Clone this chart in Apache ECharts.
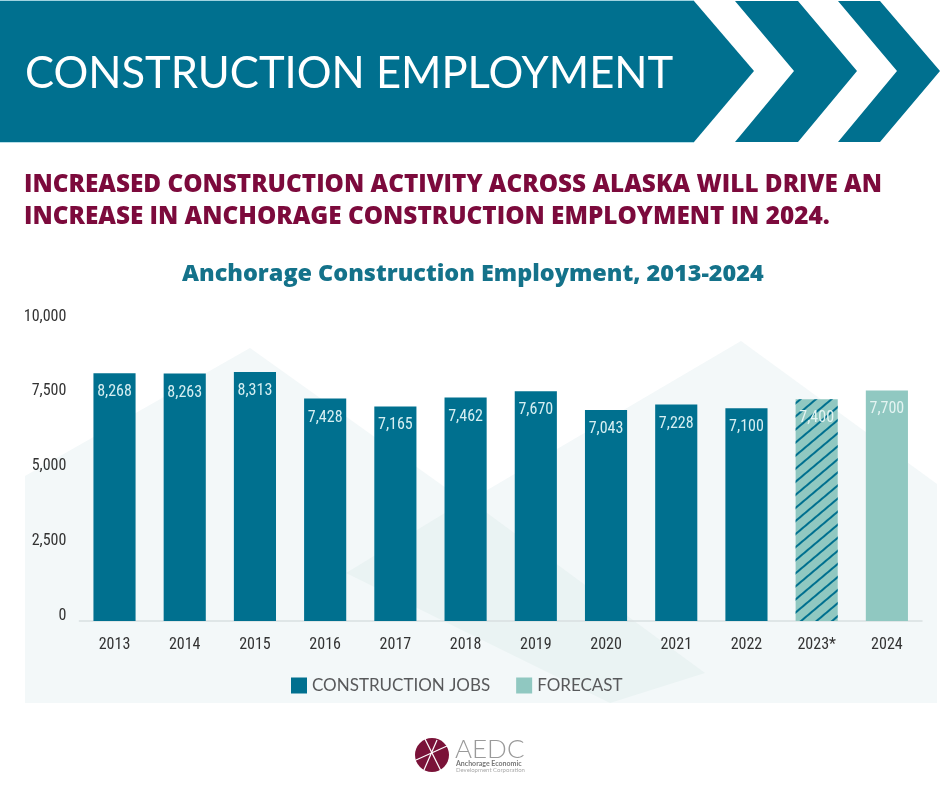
<!DOCTYPE html>
<html>
<head>
<meta charset="utf-8">
<style>html,body{margin:0;padding:0;background:#fff}#chart{width:940px;height:788px}</style>
<script src="https://cdn.jsdelivr.net/npm/echarts@6/dist/echarts.min.js"></script>
</head>
<body>
<div id="chart"></div>
<script>
var years = ['2013','2014','2015','2016','2017','2018','2019','2020','2021','2022','2023*','2024'];
var jobs = [8268,8263,8313,7428,7165,7462,7670,7043,7228,7100,null,null];
var forecast = [null,null,null,null,null,null,null,null,null,null,7400,7700];
var yTicks = {min:0,max:10000,step:2500};

var teal = '#00708f', mint = '#90c8c1', maroon = '#7c0a3c';
var narrow = '"Roboto Condensed","Open Sans Condensed",sans-serif';

function comma(v){
    return String(v).replace(/\B(?=(\d{3})+$)/g,',');
}
function poly(points,fill,z){
    return {type:'polygon',z:z||0,silent:true,shape:{points:points},style:{fill:fill}};
}
function txt(x,y,text,font,fill,align){
    return {type:'text',z:5,silent:true,x:x,y:y,style:{text:text,font:font,fill:fill,textAlign:align||'left',textVerticalAlign:'middle'}};
}
function stroke(points){
    return {type:'polyline',z:4,silent:true,shape:{points:points},style:{stroke:'#fff',lineWidth:1.2,fill:null}};
}

var chart = echarts.init(document.getElementById('chart'),null,{renderer:'canvas'});

/*背景 + 顶部横幅 + logo*/
var decor = [
    poly([[25,476],[250,348],[705,673],[610,703],[25,703]],'#f3f8f9',-10),
    poly([[346,573],[741,341],[937,484],[937,703],[610,703]],'#f3f8f9',-10),
    poly([[346,573],[468,499],[705,673],[610,703]],'#eaf3f3',-8),
    {type:'rect',z:1,silent:true,shape:{x:0,y:0,width:694,height:142.8},style:{fill:'#9fd3e0'}},
    poly([[0,1],[694,1],[754,71],[694,142],[0,142]],teal,2),
    poly([[735,1],[798,1],[857,71],[798,142],[735,142],[794,71]],teal,2),
    poly([[838,1],[880,1],[940,71],[880,142],[838,142],[897,71]],teal,2),
    txt(25,74,'CONSTRUCTION EMPLOYMENT','400 43.5px Lato','#fff'),
    txt(24,185,'INCREASED CONSTRUCTION ACTIVITY ACROSS ALASKA WILL DRIVE AN','800 24.3px "Open Sans"',maroon),
    txt(24,217,'INCREASE IN ANCHORAGE CONSTRUCTION EMPLOYMENT IN 2024.','800 24.3px "Open Sans"',maroon),
    {type:'circle',z:3,silent:true,shape:{cx:432,cy:755,r:17},style:{fill:'#7a1238'}},
    stroke([[425,739],[441,771]]),
    stroke([[416,760],[447,746]]),
    stroke([[424,770],[437,740]]),
    txt(455,750,'AEDC','300 26px Lato','#9a9a9a'),
    txt(456,764,'Anchorage Economic','700 7px Lato','#777'),
    txt(456,770,'Development Corporation','400 6px Lato','#aaa')
];

var option = {
    animation:false,
    backgroundColor:'#fff',
    title:{
        text:'Anchorage Construction Employment, 2013-2024',
        left:182,
        top:263,
        padding:0,
        textStyle:{fontFamily:'"Open Sans"',fontWeight:800,fontSize:23.4,color:'#14728a'}
    },
    legend:{
        left:286,
        top:672,
        itemWidth:16,
        itemHeight:16,
        itemGap:26,
        icon:'rect',
        textStyle:{fontFamily:'Lato',fontSize:17,color:'#58595b'},
        data:['CONSTRUCTION JOBS','FORECAST']
    },
    grid:{left:79.4,right:18,top:321.5,bottom:167},
    xAxis:{
        type:'category',
        data:years,
        axisTick:{show:false},
        axisLine:{lineStyle:{color:'#d9dfe1',width:1.5}},
        axisLabel:{margin:16,fontFamily:narrow,fontSize:16,color:'#333'}
    },
    yAxis:{
        type:'value',
        min:yTicks.min,
        max:yTicks.max,
        interval:yTicks.step,
        splitLine:{show:false},
        axisLine:{show:false},
        axisTick:{show:false},
        axisLabel:{margin:13,fontFamily:narrow,fontSize:16,color:'#333',verticalAlign:'bottom',lineHeight:10,formatter:comma}
    },
    series:[
        {
            name:'CONSTRUCTION JOBS',
            type:'bar',
            data:jobs,
            barWidth:'60%',
            barGap:'-100%',
            itemStyle:{color:teal},
            label:{show:true,position:'insideTop',distance:11,fontFamily:narrow,fontSize:16,color:'#d6eff2',
                formatter:function(p){return comma(p.value);}}
        },
        {
            name:'FORECAST',
            type:'bar',
            barWidth:'60%',
            data:forecast.map(function(v,i){
                if(years[i] !== '2023*') return v;
                return {value:v,itemStyle:{decal:{symbol:'rect',color:teal,dashArrayX:[1,0],dashArrayY:[1.5,8],rotation:-0.7}}};
            }),
            itemStyle:{color:mint},
            label:{show:true,position:'insideTop',distance:11,fontFamily:narrow,fontSize:16,color:'#e4f4f2',
                formatter:function(p){return comma(p.value);}}
        }
    ],
    graphic:decor
};
chart.setOption(option);
</script>
</body>
</html>
